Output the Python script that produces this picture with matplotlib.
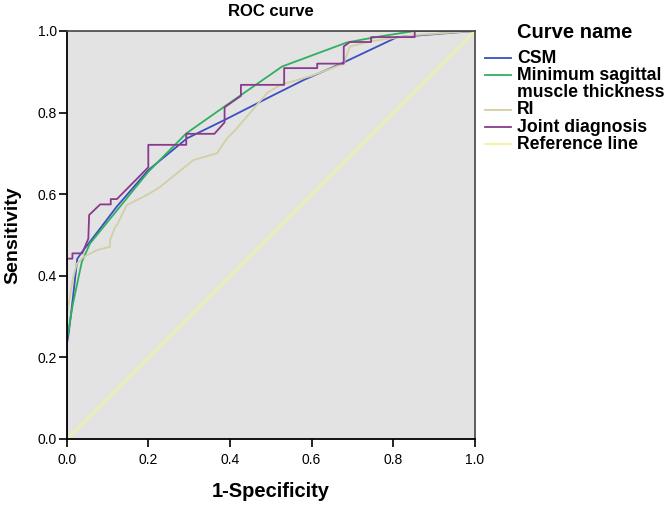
import matplotlib
matplotlib.use("Agg")
import matplotlib.pyplot as plt
from matplotlib.lines import Line2D

plt.rcParams['font.family'] = ['Liberation Sans', 'DejaVu Sans']

# ---- data ----
csm_x = [0, 0.0, 0.005, 0.015, 0.026, 0.041, 0.082, 0.123, 0.2, 0.295, 0.387, 0.499, 0.581, 0.679, 0.81, 1.0]
csm_y = [0, 0.23, 0.26, 0.344, 0.442, 0.463, 0.516, 0.57, 0.659, 0.737, 0.782, 0.839, 0.880, 0.923, 0.985, 1.0]

msmt_x = [0, 0.0, 0.015, 0.037, 0.057, 0.131, 0.2, 0.293, 0.387, 0.528, 0.687, 0.769, 0.853, 1.0]
msmt_y = [0, 0.24, 0.33, 0.434, 0.479, 0.57, 0.655, 0.749, 0.815, 0.913, 0.972, 0.987, 1.0, 1.0]

ri_x = [0, 0.0, 0.015, 0.025, 0.041, 0.074, 0.106, 0.106, 0.119, 0.123, 0.147, 0.2, 0.229,
        0.311, 0.368, 0.393, 0.413, 0.491, 0.524, 0.6, 0.679, 0.694, 0.746, 0.853, 1.0]
ri_y = [0, 0.3, 0.393, 0.43, 0.446, 0.463, 0.471, 0.487, 0.52, 0.524, 0.573, 0.60, 0.618,
        0.684, 0.700, 0.737, 0.757, 0.848, 0.868, 0.89, 0.92, 0.962, 0.975, 0.99, 1.0]

joint_x = [0, 0, 0.014, 0.014, 0.038, 0.053, 0.055, 0.082, 0.108, 0.108, 0.123, 0.2, 0.2, 0.293,
           0.293, 0.362, 0.387, 0.387, 0.427, 0.427, 0.533, 0.533, 0.614, 0.614, 0.679, 0.679,
           0.694, 0.746, 0.746, 0.853, 0.853, 1.0]
joint_y = [0, 0.442, 0.442, 0.455, 0.455, 0.491, 0.549, 0.575, 0.575, 0.588, 0.588, 0.666, 0.721,
           0.721, 0.748, 0.748, 0.776, 0.813, 0.841, 0.868, 0.868, 0.909, 0.909, 0.920, 0.920,
           0.962, 0.973, 0.973, 0.985, 0.985, 1.0, 1.0]

ref_x = [0, 1]
ref_y = [0, 1]

labels = ["CSM", "Minimum sagittal\nmuscle thickness", "RI", "Joint diagnosis", "Reference line"]
colors = ["#3a4fc0", "#2fb060", "#d2cfa4", "#8a3a8c", "#f2f29a"]
ticks = [0.0, 0.2, 0.4, 0.6, 0.8, 1.0]
tick_labels = ["0.0", "0.2", "0.4", "0.6", "0.8", "1.0"]

W, H = 669, 505
fig = plt.figure(figsize=(W / 100, H / 100), dpi=100)
ax = fig.add_axes([66.7 / W, (H - 439) / H, 408 / W, 408 / H])
ax.set_facecolor("#e3e3e3")

series = [(csm_x, csm_y), (msmt_x, msmt_y), (ri_x, ri_y), (joint_x, joint_y), (ref_x, ref_y)]
for (xs, ys), lab, col in zip(series, labels, colors):
    ax.plot(xs, ys, color=col, lw=1.3, label=lab)

ax.set_xlim(0, 1)
ax.set_ylim(0, 1)
ax.set_xticks(ticks)
ax.set_xticklabels(tick_labels)
ax.set_yticks(ticks)
ax.set_yticklabels(tick_labels)
ax.tick_params(direction='out', length=6, width=1.2, labelsize=10, top=False, right=False)
ax.tick_params(axis='x', pad=4)
ax.tick_params(axis='y', pad=1)
for s in ['left', 'bottom']:
    ax.spines[s].set_color('black')
    ax.spines[s].set_linewidth(1.3)
for s in ['top', 'right']:
    ax.spines[s].set_color('#444444')
    ax.spines[s].set_linewidth(1.2)

ax.set_title("ROC curve", fontsize=12, fontweight='bold', pad=11)
ax.set_xlabel("1-Specificity", fontsize=14.5, fontweight='bold')
ax.xaxis.set_label_coords(0.5, -0.106)
ax.set_ylabel("Sensitivity", fontsize=14, fontweight='bold')
ax.yaxis.set_label_coords(-0.112, 0.5)

# ---- legend (drawn manually to match layout) ----
def fx(px):
    return px / W

def fy(py):
    return 1 - py / H

fig.text(fx(517), fy(38), "Curve name", fontsize=14.5, fontweight='bold',
         ha='left', va='baseline')
baselines = [62.7, 80, 114.5, 131.5, 149]
for lab, col, b in zip(labels, colors, baselines):
    lines = lab.split("\n")
    for i, ln in enumerate(lines):
        fig.text(fx(517), fy(b + i * 17), ln, fontsize=12.7, fontweight='bold',
                 ha='left', va='baseline')
    fig.add_artist(Line2D([fx(485), fx(511)], [fy(b - 5), fy(b - 5)],
                          transform=fig.transFigure, color=col, lw=1.3))

fig.savefig("out.png", dpi=100)
